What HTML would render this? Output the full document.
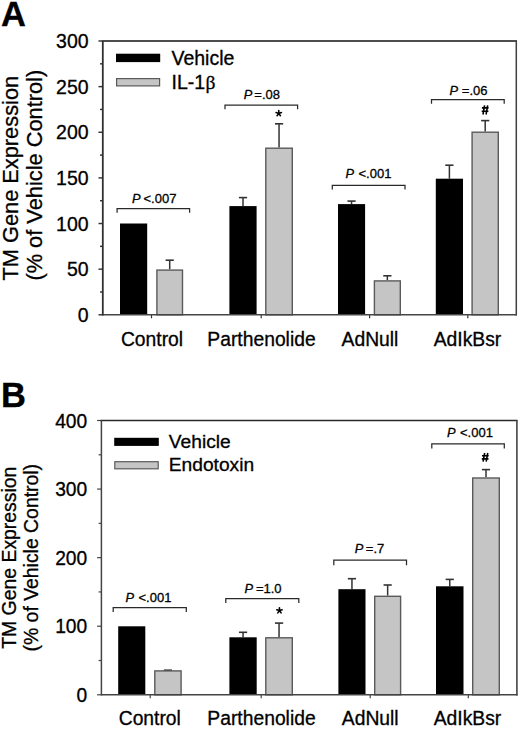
<!DOCTYPE html>
<html><head><meta charset="utf-8"><style>
html,body{margin:0;padding:0;background:#fff;}
svg{display:block;}
text{font-family:"Liberation Sans", sans-serif;fill:#000;stroke:#000;stroke-width:0.3px;}
</style></head><body>
<svg width="520" height="729" viewBox="0 0 520 729">
<rect x="0" y="0" width="520" height="729" fill="#fff"/>
<text x="1.10" y="25.80" font-size="34.5" text-anchor="start" font-weight="bold" >A</text>
<text transform="translate(17.60,280.60) rotate(-90)" font-size="21.8" text-anchor="start">TM Gene Expression</text>
<text transform="translate(41.90,280.60) rotate(-90)" font-size="21.8" text-anchor="start">(% of Vehicle Control)</text>
<text transform="translate(88.60,314.80) scale(1,1.04)" font-size="19.5" text-anchor="end" dominant-baseline="central">0</text>
<line x1="98.50" y1="314.80" x2="102.80" y2="314.80" stroke="#333" stroke-width="1.4400000000000002"/>
<line x1="100.00" y1="291.98" x2="102.80" y2="291.98" stroke="#333" stroke-width="1.4400000000000002"/>
<text transform="translate(88.60,269.17) scale(1,1.04)" font-size="19.5" text-anchor="end" dominant-baseline="central">50</text>
<line x1="98.50" y1="269.17" x2="102.80" y2="269.17" stroke="#333" stroke-width="1.4400000000000002"/>
<line x1="100.00" y1="246.35" x2="102.80" y2="246.35" stroke="#333" stroke-width="1.4400000000000002"/>
<text transform="translate(88.60,223.53) scale(1,1.04)" font-size="19.5" text-anchor="end" dominant-baseline="central">100</text>
<line x1="98.50" y1="223.53" x2="102.80" y2="223.53" stroke="#333" stroke-width="1.4400000000000002"/>
<line x1="100.00" y1="200.72" x2="102.80" y2="200.72" stroke="#333" stroke-width="1.4400000000000002"/>
<text transform="translate(88.60,177.90) scale(1,1.04)" font-size="19.5" text-anchor="end" dominant-baseline="central">150</text>
<line x1="98.50" y1="177.90" x2="102.80" y2="177.90" stroke="#333" stroke-width="1.4400000000000002"/>
<line x1="100.00" y1="155.08" x2="102.80" y2="155.08" stroke="#333" stroke-width="1.4400000000000002"/>
<text transform="translate(88.60,132.27) scale(1,1.04)" font-size="19.5" text-anchor="end" dominant-baseline="central">200</text>
<line x1="98.50" y1="132.27" x2="102.80" y2="132.27" stroke="#333" stroke-width="1.4400000000000002"/>
<line x1="100.00" y1="109.45" x2="102.80" y2="109.45" stroke="#333" stroke-width="1.4400000000000002"/>
<text transform="translate(88.60,86.63) scale(1,1.04)" font-size="19.5" text-anchor="end" dominant-baseline="central">250</text>
<line x1="98.50" y1="86.63" x2="102.80" y2="86.63" stroke="#333" stroke-width="1.4400000000000002"/>
<line x1="100.00" y1="63.82" x2="102.80" y2="63.82" stroke="#333" stroke-width="1.4400000000000002"/>
<text transform="translate(88.60,41.00) scale(1,1.04)" font-size="19.5" text-anchor="end" dominant-baseline="central">300</text>
<line x1="98.50" y1="41.00" x2="102.80" y2="41.00" stroke="#333" stroke-width="1.4400000000000002"/>
<line x1="151.50" y1="314.80" x2="151.50" y2="318.30" stroke="#333" stroke-width="1.2"/>
<line x1="261.20" y1="314.80" x2="261.20" y2="318.30" stroke="#333" stroke-width="1.2"/>
<line x1="369.60" y1="314.80" x2="369.60" y2="318.30" stroke="#333" stroke-width="1.2"/>
<line x1="467.80" y1="314.80" x2="467.80" y2="318.30" stroke="#333" stroke-width="1.2"/>
<rect x="120.00" y="223.50" width="27.20" height="91.30" fill="#000"/>
<line x1="169.70" y1="269.40" x2="169.70" y2="260.20" stroke="#333" stroke-width="1.5"/>
<line x1="165.60" y1="260.20" x2="173.80" y2="260.20" stroke="#333" stroke-width="1.6"/>
<rect x="156.90" y="270.10" width="25.60" height="44.70" fill="#c5c5c5" stroke="#5a5a5a" stroke-width="1.4"/>
<line x1="243.00" y1="206.10" x2="243.00" y2="197.60" stroke="#333" stroke-width="1.5"/>
<line x1="238.90" y1="197.60" x2="247.10" y2="197.60" stroke="#333" stroke-width="1.6"/>
<rect x="229.40" y="206.10" width="27.20" height="108.70" fill="#000"/>
<line x1="279.05" y1="147.50" x2="279.05" y2="123.80" stroke="#333" stroke-width="1.5"/>
<line x1="274.95" y1="123.80" x2="283.15" y2="123.80" stroke="#333" stroke-width="1.6"/>
<rect x="265.80" y="148.20" width="26.50" height="166.60" fill="#c5c5c5" stroke="#5a5a5a" stroke-width="1.4"/>
<line x1="351.55" y1="204.10" x2="351.55" y2="201.10" stroke="#333" stroke-width="1.5"/>
<line x1="347.45" y1="201.10" x2="355.65" y2="201.10" stroke="#333" stroke-width="1.6"/>
<rect x="338.00" y="204.10" width="27.10" height="110.70" fill="#000"/>
<line x1="387.35" y1="280.20" x2="387.35" y2="275.80" stroke="#333" stroke-width="1.5"/>
<line x1="383.25" y1="275.80" x2="391.45" y2="275.80" stroke="#333" stroke-width="1.6"/>
<rect x="374.40" y="280.90" width="25.90" height="33.90" fill="#c5c5c5" stroke="#5a5a5a" stroke-width="1.4"/>
<line x1="449.40" y1="178.70" x2="449.40" y2="165.20" stroke="#333" stroke-width="1.5"/>
<line x1="445.30" y1="165.20" x2="453.50" y2="165.20" stroke="#333" stroke-width="1.6"/>
<rect x="435.80" y="178.70" width="27.20" height="136.10" fill="#000"/>
<line x1="485.20" y1="131.50" x2="485.20" y2="120.60" stroke="#333" stroke-width="1.5"/>
<line x1="481.10" y1="120.60" x2="489.30" y2="120.60" stroke="#333" stroke-width="1.6"/>
<rect x="472.10" y="132.20" width="26.20" height="182.60" fill="#c5c5c5" stroke="#5a5a5a" stroke-width="1.4"/>
<line x1="101.90" y1="41.00" x2="517.00" y2="41.00" stroke="#4d4d4d" stroke-width="1.9"/>
<line x1="516.30" y1="41.00" x2="516.30" y2="315.50" stroke="#404040" stroke-width="1.5"/>
<line x1="102.80" y1="314.80" x2="517.00" y2="314.80" stroke="#454545" stroke-width="1.5"/>
<line x1="102.80" y1="41.00" x2="102.80" y2="315.50" stroke="#303030" stroke-width="1.8"/>
<path d="M117.10,212.80 L117.10,208.60 L189.60,208.60 L189.60,212.80" fill="none" stroke="#2a2a2a" stroke-width="1.25"/>
<text transform="translate(131.90,202.70) scale(1,1.0)" font-size="12.8" font-style="italic">P</text>
<text transform="translate(143.50,202.70) scale(1,1.0)" font-size="13">&lt;.007</text>
<path d="M225.00,109.20 L225.00,105.10 L297.60,105.10 L297.60,109.20" fill="none" stroke="#2a2a2a" stroke-width="1.25"/>
<text transform="translate(243.70,99.40) scale(1,1.0)" font-size="12.8" font-style="italic">P</text>
<text transform="translate(254.30,99.40) scale(1,1.0)" font-size="13">=.08</text>
<path d="M332.30,189.40 L332.30,185.30 L405.00,185.30 L405.00,189.40" fill="none" stroke="#2a2a2a" stroke-width="1.25"/>
<text transform="translate(345.60,178.20) scale(1,1.0)" font-size="12.8" font-style="italic">P</text>
<text transform="translate(358.50,178.20) scale(1,1.0)" font-size="13">&lt;.001</text>
<path d="M431.50,103.80 L431.50,99.60 L504.20,99.60 L504.20,103.80" fill="none" stroke="#2a2a2a" stroke-width="1.25"/>
<text transform="translate(449.60,95.30) scale(1,1.0)" font-size="12.8" font-style="italic">P</text>
<text transform="translate(461.80,95.30) scale(1,1.0)" font-size="13">=.06</text>
<path d="M278.75,113.40 L278.75,110.60 M278.75,113.40 L281.41,112.53 M278.75,113.40 L280.40,115.67 M278.75,113.40 L277.10,115.67 M278.75,113.40 L276.09,112.53" stroke="#000" stroke-width="1.6" stroke-linecap="round" fill="none"/>
<path d="M484.58,105.40 L482.97,114.50 M487.66,105.40 L486.05,114.50 M481.90,107.90 L488.60,107.90 M481.70,111.30 L488.40,111.30" stroke="#000" stroke-width="1.6" fill="none"/>
<text transform="translate(152.00,345.80) scale(1,1.0)" font-size="19.3" text-anchor="middle">Control</text>
<text transform="translate(261.50,345.80) scale(1,1.0)" font-size="19.3" text-anchor="middle">Parthenolide</text>
<text transform="translate(370.00,345.80) scale(1,1.0)" font-size="19.3" text-anchor="middle">AdNull</text>
<text transform="translate(467.50,345.80) scale(1,1.0)" font-size="19.3" text-anchor="middle">AdIkBsr</text>
<rect x="116.00" y="53.70" width="44.20" height="8.40" fill="#000"/>
<rect x="116.60" y="78.60" width="43.00" height="7.30" fill="#c5c5c5" stroke="#5a5a5a" stroke-width="1.2"/>
<text x="171.50" y="64.50" font-size="19.5" text-anchor="start" font-weight="normal" >Vehicle</text>
<text x="171.50" y="89.30" font-size="19.5" text-anchor="start" font-weight="normal" >IL-1<tspan font-family="Liberation Serif" font-size="19.5" dx="0.3">β</tspan></text>
<text x="0.90" y="407.20" font-size="34.5" text-anchor="start" font-weight="bold" >B</text>
<text transform="translate(15.90,557.70) rotate(-90)" font-size="19.4" text-anchor="middle">TM Gene Expression</text>
<text transform="translate(38.10,557.70) rotate(-90)" font-size="19.4" text-anchor="middle">(% of Vehicle Control)</text>
<text transform="translate(87.20,694.80) scale(1,1.08)" font-size="19.2" text-anchor="end" dominant-baseline="central">0</text>
<line x1="97.10" y1="694.80" x2="101.40" y2="694.80" stroke="#444" stroke-width="1.2000000000000002"/>
<line x1="98.60" y1="660.51" x2="101.40" y2="660.51" stroke="#444" stroke-width="1.2000000000000002"/>
<text transform="translate(87.20,626.22) scale(1,1.08)" font-size="19.2" text-anchor="end" dominant-baseline="central">100</text>
<line x1="97.10" y1="626.22" x2="101.40" y2="626.22" stroke="#444" stroke-width="1.2000000000000002"/>
<line x1="98.60" y1="591.94" x2="101.40" y2="591.94" stroke="#444" stroke-width="1.2000000000000002"/>
<text transform="translate(87.20,557.65) scale(1,1.08)" font-size="19.2" text-anchor="end" dominant-baseline="central">200</text>
<line x1="97.10" y1="557.65" x2="101.40" y2="557.65" stroke="#444" stroke-width="1.2000000000000002"/>
<line x1="98.60" y1="523.36" x2="101.40" y2="523.36" stroke="#444" stroke-width="1.2000000000000002"/>
<text transform="translate(87.20,489.07) scale(1,1.08)" font-size="19.2" text-anchor="end" dominant-baseline="central">300</text>
<line x1="97.10" y1="489.07" x2="101.40" y2="489.07" stroke="#444" stroke-width="1.2000000000000002"/>
<line x1="98.60" y1="454.79" x2="101.40" y2="454.79" stroke="#444" stroke-width="1.2000000000000002"/>
<text transform="translate(87.20,420.50) scale(1,1.08)" font-size="19.2" text-anchor="end" dominant-baseline="central">400</text>
<line x1="97.10" y1="420.50" x2="101.40" y2="420.50" stroke="#444" stroke-width="1.2000000000000002"/>
<line x1="150.20" y1="694.80" x2="150.20" y2="698.30" stroke="#444" stroke-width="1.2"/>
<line x1="261.20" y1="694.80" x2="261.20" y2="698.30" stroke="#444" stroke-width="1.2"/>
<line x1="370.20" y1="694.80" x2="370.20" y2="698.30" stroke="#444" stroke-width="1.2"/>
<line x1="468.30" y1="694.80" x2="468.30" y2="698.30" stroke="#444" stroke-width="1.2"/>
<rect x="118.20" y="626.30" width="27.10" height="68.50" fill="#000"/>
<line x1="167.95" y1="670.20" x2="167.95" y2="670.20" stroke="#333" stroke-width="1.5"/>
<line x1="163.85" y1="670.20" x2="172.05" y2="670.20" stroke="#333" stroke-width="1.6"/>
<rect x="154.80" y="670.90" width="26.30" height="23.90" fill="#c5c5c5" stroke="#5a5a5a" stroke-width="1.4"/>
<line x1="243.05" y1="637.30" x2="243.05" y2="632.30" stroke="#333" stroke-width="1.5"/>
<line x1="238.95" y1="632.30" x2="247.15" y2="632.30" stroke="#333" stroke-width="1.6"/>
<rect x="229.40" y="637.30" width="27.30" height="57.50" fill="#000"/>
<line x1="279.05" y1="637.10" x2="279.05" y2="623.10" stroke="#333" stroke-width="1.5"/>
<line x1="274.95" y1="623.10" x2="283.15" y2="623.10" stroke="#333" stroke-width="1.6"/>
<rect x="265.80" y="637.80" width="26.50" height="57.00" fill="#c5c5c5" stroke="#5a5a5a" stroke-width="1.4"/>
<line x1="351.95" y1="589.20" x2="351.95" y2="578.70" stroke="#333" stroke-width="1.5"/>
<line x1="347.85" y1="578.70" x2="356.05" y2="578.70" stroke="#333" stroke-width="1.6"/>
<rect x="338.40" y="589.20" width="27.10" height="105.60" fill="#000"/>
<line x1="387.65" y1="595.60" x2="387.65" y2="585.00" stroke="#333" stroke-width="1.5"/>
<line x1="383.55" y1="585.00" x2="391.75" y2="585.00" stroke="#333" stroke-width="1.6"/>
<rect x="374.70" y="596.30" width="25.90" height="98.50" fill="#c5c5c5" stroke="#5a5a5a" stroke-width="1.4"/>
<line x1="449.75" y1="586.30" x2="449.75" y2="579.40" stroke="#333" stroke-width="1.5"/>
<line x1="445.65" y1="579.40" x2="453.85" y2="579.40" stroke="#333" stroke-width="1.6"/>
<rect x="436.00" y="586.30" width="27.50" height="108.50" fill="#000"/>
<line x1="486.00" y1="477.30" x2="486.00" y2="469.60" stroke="#333" stroke-width="1.5"/>
<line x1="481.90" y1="469.60" x2="490.10" y2="469.60" stroke="#333" stroke-width="1.6"/>
<rect x="472.70" y="478.00" width="26.60" height="216.80" fill="#c5c5c5" stroke="#5a5a5a" stroke-width="1.4"/>
<line x1="100.50" y1="420.50" x2="517.60" y2="420.50" stroke="#2a2a2a" stroke-width="1.6"/>
<line x1="516.90" y1="420.50" x2="516.90" y2="695.50" stroke="#444" stroke-width="1.6"/>
<line x1="101.40" y1="694.80" x2="517.60" y2="694.80" stroke="#444" stroke-width="1.6"/>
<line x1="101.40" y1="420.50" x2="101.40" y2="695.50" stroke="#444" stroke-width="1.5"/>
<path d="M113.20,612.00 L113.20,607.60 L186.30,607.60 L186.30,612.00" fill="none" stroke="#2a2a2a" stroke-width="1.25"/>
<text transform="translate(125.60,601.60) scale(1,1.0)" font-size="12.8" font-style="italic">P</text>
<text transform="translate(138.50,601.60) scale(1,1.0)" font-size="13">&lt;.001</text>
<path d="M225.80,603.10 L225.80,598.60 L298.80,598.60 L298.80,603.10" fill="none" stroke="#2a2a2a" stroke-width="1.25"/>
<text transform="translate(244.60,593.30) scale(1,1.0)" font-size="12.8" font-style="italic">P</text>
<text transform="translate(255.90,593.30) scale(1,1.0)" font-size="13">=1.0</text>
<path d="M333.80,565.20 L333.80,560.20 L406.50,560.20 L406.50,565.20" fill="none" stroke="#2a2a2a" stroke-width="1.25"/>
<text transform="translate(354.80,553.30) scale(1,1.0)" font-size="12.8" font-style="italic">P</text>
<text transform="translate(365.80,553.30) scale(1,1.0)" font-size="13">=.7</text>
<path d="M431.80,448.40 L431.80,443.90 L504.30,443.90 L504.30,448.40" fill="none" stroke="#2a2a2a" stroke-width="1.25"/>
<text transform="translate(447.10,437.20) scale(1,1.0)" font-size="12.8" font-style="italic">P</text>
<text transform="translate(460.00,437.20) scale(1,1.0)" font-size="13">&lt;.001</text>
<path d="M279.45,610.60 L279.45,607.80 M279.45,610.60 L282.11,609.73 M279.45,610.60 L281.10,612.87 M279.45,610.60 L277.80,612.87 M279.45,610.60 L276.79,609.73" stroke="#000" stroke-width="1.6" stroke-linecap="round" fill="none"/>
<path d="M484.68,453.00 L483.07,461.70 M487.76,453.00 L486.15,461.70 M482.00,455.70 L488.70,455.70 M481.80,458.90 L488.50,458.90" stroke="#000" stroke-width="1.6" fill="none"/>
<text transform="translate(149.80,725.20) scale(1,1.0)" font-size="19.3" text-anchor="middle">Control</text>
<text transform="translate(261.50,725.20) scale(1,1.0)" font-size="19.3" text-anchor="middle">Parthenolide</text>
<text transform="translate(370.20,725.20) scale(1,1.0)" font-size="19.3" text-anchor="middle">AdNull</text>
<text transform="translate(467.50,725.20) scale(1,1.0)" font-size="19.3" text-anchor="middle">AdIkBsr</text>
<rect x="114.20" y="437.80" width="44.60" height="8.10" fill="#000"/>
<rect x="114.80" y="461.70" width="43.40" height="7.10" fill="#c5c5c5" stroke="#5a5a5a" stroke-width="1.2"/>
<text x="168.80" y="447.60" font-size="19.2" text-anchor="start" font-weight="normal" >Vehicle</text>
<text x="168.80" y="471.20" font-size="19.2" text-anchor="start" font-weight="normal" >Endotoxin</text>
</svg>
</body></html>
